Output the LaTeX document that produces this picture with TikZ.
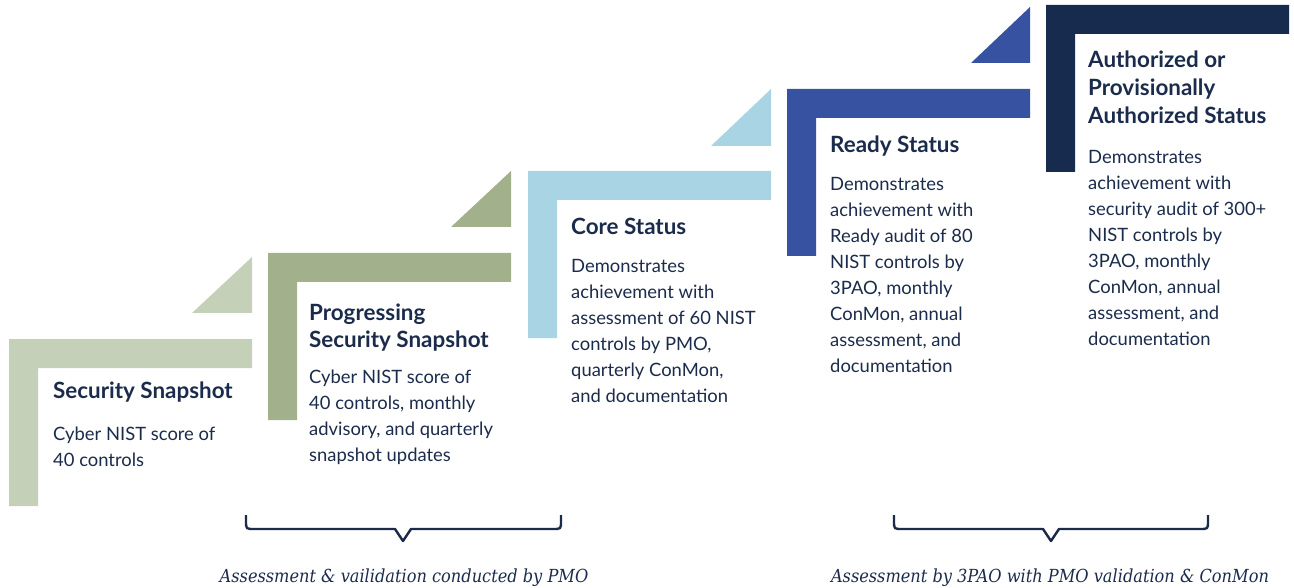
\documentclass[tikz,border=0pt]{standalone}
\usepackage{fontspec}
\setmainfont{Lato}
\newfontfamily\notefamily{DejaVu Serif Condensed}
\definecolor{ink}{HTML}{1B2B4B}
\definecolor{sagelight}{HTML}{C5D0B8}
\definecolor{sage}{HTML}{A2B08C}
\definecolor{skylight}{HTML}{A8D4E3}
\definecolor{royal}{HTML}{3752A0}
\definecolor{navy}{HTML}{172B4F}
\tikzset{
    steptitle/.style={anchor=base west, inner sep=0pt, text=ink, align=left,
        font=\bfseries\fontsize{22.4}{28}\selectfont},
    stepbody/.style={anchor=base west, inner sep=0pt, text=ink, align=left,
        font=\fontsize{18.4}{26}\selectfont},
    note/.style={anchor=base, inner sep=0pt, text=ink,
        font=\notefamily\itshape\fontsize{18}{22}\selectfont},
    brace/.style={draw=ink, line width=2.4pt, line join=round}
}
\begin{document}
\begin{tikzpicture}[x=1pt, y=-1pt]
        \useasboundingbox (0,0) rectangle (1294,588);
        % stairs
        \fill[sagelight] (9,339) -- ++(243,0) -- ++(0,29) -- ++(-214,0) -- ++(0,138) -- ++(-29,0) -- cycle;
        \fill[sagelight] (192,313) -- (252,313) -- (252,257) -- cycle;
        \fill[sage] (268,253) -- ++(243,0) -- ++(0,29) -- ++(-214,0) -- ++(0,138) -- ++(-29,0) -- cycle;
        \fill[sage] (451,227) -- (511,227) -- (511,171) -- cycle;
        \fill[skylight] (528,171) -- ++(243,0) -- ++(0,29) -- ++(-214,0) -- ++(0,138) -- ++(-29,0) -- cycle;
        \fill[skylight] (711,146) -- (771,146) -- (771,89) -- cycle;
        \fill[royal] (787,89) -- ++(243,0) -- ++(0,29) -- ++(-214,0) -- ++(0,138) -- ++(-29,0) -- cycle;
        \fill[royal] (971,63) -- (1030,63) -- (1030,7) -- cycle;
        \fill[navy] (1046,5) -- ++(243,0) -- ++(0,29) -- ++(-214,0) -- ++(0,138) -- ++(-29,0) -- cycle;
        % texts (multi-line nodes sit on their last baseline)
        \node[steptitle] (snapT) at (53,398) {Security Snapshot};
        \node[stepbody] (snapB) at (53,466) {Cyber NIST score of\\40 controls};
        \node[steptitle] (progT) at (309,348) {Progressing\\Security Snapshot};
        \node[stepbody] (progB) at (309,461) {Cyber NIST score of\\40 controls, monthly\\advisory, and quarterly\\snapshot updates};
        \node[steptitle] (coreT) at (571,235) {Core Status};
        \node[stepbody] (coreB) at (571,402) {Demonstrates\\achievement with\\assessment of 60 NIST\\controls by PMO,\\quarterly ConMon,\\and documentation};
        \node[steptitle] (readyT) at (830,153) {Ready Status};
        \node[stepbody] (readyB) at (830,372) {Demonstrates\\achievement with\\Ready audit of 80\\NIST controls by\\3PAO, monthly\\ConMon, annual\\assessment, and\\documentation};
        \node[steptitle] (authT) at (1088,124) {Authorized or\\Provisionally\\Authorized Status};
        \node[stepbody] (authB) at (1088,345) {Demonstrates\\achievement with\\security audit of 300+\\NIST controls by\\3PAO, monthly\\ConMon, annual\\assessment, and\\documentation};
        % braces
        \draw[brace] (246,515) -- (246,521) .. controls (246,529) .. (254,529) -- (395,529) -- (403,541)
            -- (411,529) -- (553,529) .. controls (561,529) .. (561,521) -- (561,515);
        \draw[brace] (894,515) -- (894,521) .. controls (894,529) .. (902,529) -- (1043,529) -- (1051,541)
            -- (1059,529) -- (1200,529) .. controls (1208,529) .. (1208,521) -- (1208,515);
        \node[note] (pmo) at (404,582) {Assessment \& vailidation conducted by PMO};
        \node[note] (tpao) at (1050,582) {Assessment by 3PAO with PMO validation \& ConMon};
\end{tikzpicture}
\end{document}
